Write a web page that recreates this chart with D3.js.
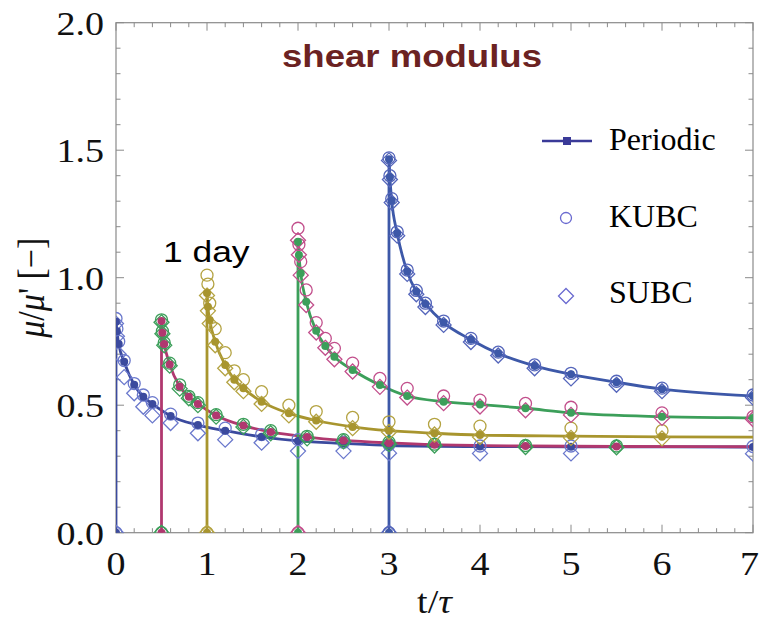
<!DOCTYPE html>
<html><head><meta charset="utf-8">
<script src="https://cdn.jsdelivr.net/npm/d3@7/dist/d3.min.js"></script>
<style>body{margin:0;background:#fff}svg{display:block}</style>
</head><body>
<svg id="chart" width="760" height="630"></svg>
<script>
// ---- data ----
const offsets = [0, 0.01, 0.03, 0.09, 0.2, 0.3, 0.4, 0.6, 0.9, 1.2, 1.6, 2.0, 2.5, 3.0, 4.0, 5.0, 7.0];
const loadTimes = [0, 0.5, 1, 2, 3];
const periodicA = [0.827, 0.79, 0.74, 0.67, 0.58, 0.533, 0.505, 0.458, 0.422, 0.40, 0.376, 0.36, 0.35, 0.342, 0.338, 0.337, 0.336];
const kubcA     = [0.84, 0.80, 0.75, 0.675, 0.585, 0.54, 0.51, 0.465, 0.43, 0.41, 0.385, 0.365, 0.355, 0.345, 0.34, 0.34, 0.338];
const subcA     = [0.82, 0.77, 0.70, 0.61, 0.547, 0.494, 0.46, 0.43, 0.39, 0.365, 0.353, 0.32, 0.32, 0.312, 0.311, 0.311, 0.31];
const periodicB = [0.83, 0.784, 0.74, 0.66, 0.573, 0.533, 0.505, 0.46, 0.42, 0.395, 0.375, 0.362, 0.352, 0.345, 0.34, 0.338, 0.337];
const kubcB     = [0.835, 0.79, 0.745, 0.665, 0.58, 0.535, 0.51, 0.463, 0.425, 0.40, 0.378, 0.365, 0.355, 0.347, 0.342, 0.34, 0.339];
const subcB     = [0.825, 0.78, 0.735, 0.655, 0.565, 0.527, 0.50, 0.455, 0.415, 0.39, 0.37, 0.358, 0.348, 0.342, 0.336, 0.335, 0.334];
const periodicC = [0.94, 0.886, 0.834, 0.749, 0.658, 0.60, 0.566, 0.514, 0.468, 0.44, 0.415, 0.40, 0.39, 0.383, 0.379, 0.376, 0.374];
const kubcC     = [1.01, 0.975, 0.90, 0.80, 0.706, 0.635, 0.60, 0.553, 0.50, 0.475, 0.452, 0.435, 0.425, 0.418, 0.41, 0.40, 0.395];
const subcC     = [0.93, 0.87, 0.82, 0.735, 0.645, 0.59, 0.555, 0.505, 0.46, 0.435, 0.41, 0.395, 0.385, 0.375, 0.372, 0.37, 0.368];
const periodicD = [1.141, 1.089, 1.017, 0.906, 0.792, 0.732, 0.69, 0.638, 0.579, 0.536, 0.514, 0.503, 0.488, 0.47, 0.455, 0.45, 0.445];
const kubcD     = [1.194, 1.13, 1.063, 0.952, 0.824, 0.762, 0.723, 0.665, 0.605, 0.566, 0.536, 0.52, 0.507, 0.492, 0.47, 0.455, 0.45];
const subcD     = [1.147, 1.09, 1.01, 0.893, 0.785, 0.725, 0.68, 0.632, 0.572, 0.53, 0.508, 0.495, 0.48, 0.462, 0.45, 0.445, 0.44];
const periodicE = [1.465, 1.394, 1.302, 1.174, 1.024, 0.945, 0.897, 0.824, 0.757, 0.703, 0.654, 0.621, 0.59, 0.563, 0.536, 0.52, 0.50];
const kubcE     = [1.47, 1.40, 1.31, 1.18, 1.03, 0.95, 0.90, 0.83, 0.762, 0.708, 0.658, 0.625, 0.594, 0.567, 0.54, 0.524, 0.505];
const subcE     = [1.46, 1.385, 1.295, 1.165, 1.015, 0.935, 0.885, 0.815, 0.748, 0.695, 0.645, 0.605, 0.58, 0.555, 0.53, 0.515, 0.495];
const lineColors   = ["#3b4a9e", "#b0386f", "#a8952e", "#3c9f5a", "#3d58a8"];
const markerColors = ["#6a78cc", "#3c9f5a", "#b4a342", "#c24f8c", "#5566bb"];
const xTicks = [0, 1, 2, 3, 4, 5, 6, 7];
const yTicks = [0.0, 0.5, 1.0, 1.5, 2.0];
const legendLabels = ["Periodic", "KUBC", "SUBC"];
const titleText = "shear modulus";
const noteText = "1 day";

const periodic = [periodicA, periodicB, periodicC, periodicD, periodicE];
const kubc = [kubcA, kubcB, kubcC, kubcD, kubcE];
const subc = [subcA, subcB, subcC, subcD, subcE];

// ---- layout ----
const svg = d3.select("#chart");
const W = 760;
const L = 116, R = 753, T = 22.7, B = 532.7;
const x = d3.scaleLinear().domain([0, 7]).range([L, R]);
const y = d3.scaleLinear().domain([0, 2]).range([B, T]);
const serif = "'Liberation Serif','Times New Roman',serif";
const sans = "'Liberation Sans',Arial,sans-serif";
const frameColor = "#8a8a8a";

svg.append("defs").append("clipPath").attr("id", "plotclip")
  .append("rect").attr("x", L).attr("y", T).attr("width", R - L).attr("height", B - T);

// frame
svg.append("rect").attr("x", L).attr("y", T).attr("width", R - L).attr("height", B - T)
  .attr("fill", "none").attr("stroke", frameColor).attr("stroke-width", 1.2);

// ticks (inside, all four sides)
const tg = svg.append("g").attr("stroke", frameColor).attr("stroke-width", 1);
const xMinor = d3.range(0, 35 + 1).map(i => i * 0.2);
xMinor.forEach(v => {
  const major = Math.abs(v - Math.round(v)) < 1e-6;
  const len = major ? 8 : 4.5;
  const px = x(v);
  tg.append("line").attr("x1", px).attr("x2", px).attr("y1", B).attr("y2", B - len);
  tg.append("line").attr("x1", px).attr("x2", px).attr("y1", T).attr("y2", T + len);
});
const yMinor = d3.range(0, 20 + 1).map(i => i * 0.1);
yMinor.forEach(v => {
  const major = Math.abs(v * 2 - Math.round(v * 2)) < 1e-6;
  const len = major ? 8 : 4.5;
  const py = y(v);
  tg.append("line").attr("y1", py).attr("y2", py).attr("x1", L).attr("x2", L + len);
  tg.append("line").attr("y1", py).attr("y2", py).attr("x1", R).attr("x2", R - len);
});

// tick labels
const sx = 1.12;
xTicks.forEach(v => {
  const t = svg.append("text").attr("transform", `translate(${x(v)},${B + 42}) scale(${sx},1)`)
    .attr("text-anchor", "middle").attr("font-family", serif).attr("font-size", 34)
    .attr("fill", "#111").text(String(v));
  // keep label inside the page
  const bb = t.node().getBBox();
  const right = x(v) + (bb.x + bb.width) * sx;
  if (right > W - 1) {
    const px = x(v) - (right - (W - 1));
    t.attr("transform", `translate(${px},${B + 42}) scale(${sx},1)`);
  }
});
yTicks.forEach(v => {
  svg.append("text").attr("transform", `translate(${L - 12},${y(v) + 12}) scale(${sx},1)`)
    .attr("text-anchor", "end").attr("font-family", serif).attr("font-size", 34)
    .attr("fill", "#111").text(v.toFixed(1));
});

// axis titles
const xt = svg.append("text").attr("transform", `translate(${(L + R) / 2},613) scale(${sx},1)`)
  .attr("text-anchor", "middle").attr("font-family", serif).attr("font-size", 34).attr("fill", "#111");
xt.append("tspan").text("t/");
xt.append("tspan").attr("font-style", "italic").text("τ");

const yt = svg.append("text").attr("transform", `translate(44,${(T + B) / 2 + 10}) rotate(-90) scale(1,${sx})`)
  .attr("text-anchor", "middle").attr("font-family", serif).attr("font-size", 34).attr("fill", "#111");
yt.append("tspan").attr("font-style", "italic").text("μ");
yt.append("tspan").text("/");
yt.append("tspan").attr("font-style", "italic").text("μ");
yt.append("tspan").text("' [−]");

// plot content
const plot = svg.append("g").attr("clip-path", "url(#plotclip)");
const curve = d3.line().x(d => x(d[0])).y(d => y(d[1])).curve(d3.curveMonotoneX);
const straight = d3.line().x(d => x(d[0])).y(d => y(d[1]));
const diamond = r => `M0,${-r}L${r},0L0,${r}L${-r},0Z`;

loadTimes.forEach((t0, i) => {
  const pts = offsets.map((o, k) => [t0 + o, periodic[i][k]]);
  plot.append("path").attr("d", straight([[t0, 0], [t0, periodic[i][0]]]))
    .attr("fill", "none").attr("stroke", lineColors[i]).attr("stroke-width", 2.8);
  plot.append("path").attr("d", curve(pts))
    .attr("fill", "none").attr("stroke", lineColors[i]).attr("stroke-width", 2.8);
});

loadTimes.forEach((t0, i) => {
  const kp = [[t0, 0]].concat(offsets.map((o, k) => [t0 + o, kubc[i][k]]));
  const sp = [[t0, 0]].concat(offsets.map((o, k) => [t0 + o, subc[i][k]]));
  const pp = [[t0, 0]].concat(offsets.map((o, k) => [t0 + o, periodic[i][k]]));
  plot.selectAll(null).data(sp).enter().append("path")
    .attr("transform", d => `translate(${x(d[0])},${y(d[1])})`)
    .attr("d", diamond(7.5)).attr("fill", "none")
    .attr("stroke", markerColors[i]).attr("stroke-width", 1.3);
  plot.selectAll(null).data(kp).enter().append("circle")
    .attr("cx", d => x(d[0])).attr("cy", d => y(d[1])).attr("r", 6)
    .attr("fill", "none").attr("stroke", markerColors[i]).attr("stroke-width", 1.3);
  plot.selectAll(null).data(pp).enter().append("circle")
    .attr("cx", d => x(d[0])).attr("cy", d => y(d[1])).attr("r", 4)
    .attr("fill", lineColors[i]);
});

// title and note
svg.append("text").attr("transform", `translate(412,67) scale(1.18,1)`)
  .attr("text-anchor", "middle").attr("font-family", sans).attr("font-weight", "bold")
  .attr("font-size", 31).attr("fill", "#6b2222").text(titleText);
svg.append("text").attr("transform", `translate(163,262) scale(1.18,1)`)
  .attr("font-family", sans).attr("font-size", 30).attr("fill", "#000").text(noteText);

// legend
const lg = svg.append("g");
lg.append("line").attr("x1", 542).attr("x2", 592).attr("y1", 141).attr("y2", 141)
  .attr("stroke", "#3a3a98").attr("stroke-width", 2.5);
lg.append("rect").attr("x", 563).attr("y", 137).attr("width", 8).attr("height", 8).attr("fill", "#3a3a98");
lg.append("circle").attr("cx", 566).attr("cy", 218).attr("r", 5.5)
  .attr("fill", "none").attr("stroke", "#6a6ad0").attr("stroke-width", 1.3);
lg.append("path").attr("transform", "translate(566,296)").attr("d", diamond(7.5))
  .attr("fill", "none").attr("stroke", "#6a6ad0").attr("stroke-width", 1.3);
const legY = [150, 227, 303];
legendLabels.forEach((s, i) => {
  lg.append("text").attr("x", 609).attr("y", legY[i]).attr("font-family", serif)
    .attr("font-size", 32).attr("fill", "#000").text(s);
});
</script>
</body></html>
